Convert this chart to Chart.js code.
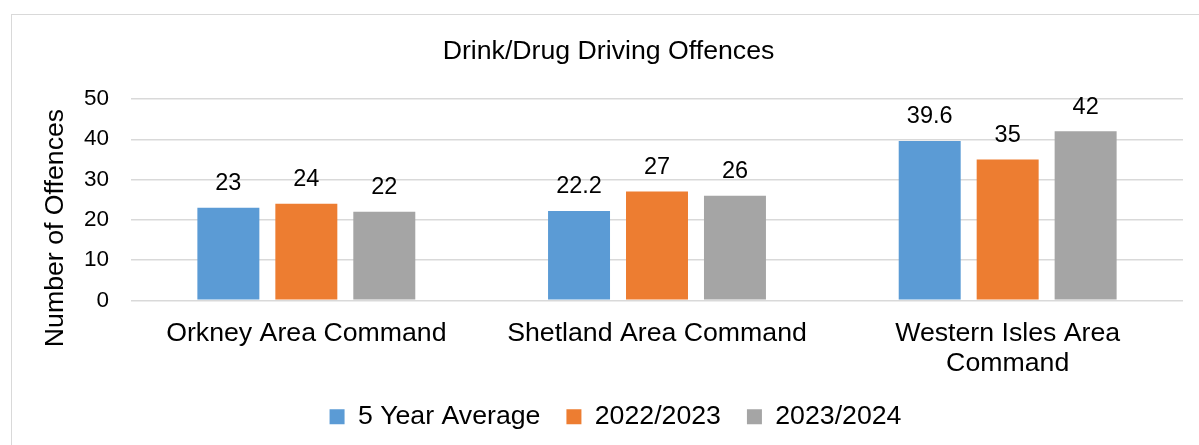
<!DOCTYPE html>
<html>
<head>
<meta charset="utf-8">
<script src="https://cdn.jsdelivr.net/npm/chart.js@4/dist/chart.umd.min.js"></script>
<style>
  html, body { margin: 0; padding: 0; background: #fff; }
  #wrap { position: absolute; left: 0; top: 0; width: 1199px; height: 445px; }
  #frame { position: absolute; left: 11px; top: 14px; width: 1300px; height: 500px; border: 1.5px solid #d9d9d9; }
</style>
</head>
<body>
<div id="frame"></div>
<div id="wrap"><canvas id="offencesChart"></canvas></div>
<script>
var categories = ['Orkney Area Command', 'Shetland Area Command', ['Western Isles Area', 'Command']];
var seriesNames = ['5 Year Average', '2022/2023', '2023/2024'];
var fiveYearAverage = [23, 22.2, 39.6];
var year2022 = [24, 27, 35];
var year2023 = [22, 26, 42];
var yTicks = [0, 10, 20, 30, 40, 50];
var yTitle = 'Number of Offences';

var FONT = "'Liberation Sans', Arial, sans-serif";

// value labels above each bar + y axis title (excel puts it a bit lower than centre)
var extras = {
    id: 'extras',
    afterLayout: function(chart) {
        // title and legend sit a little right of centre in the original
        chart.titleBlock.left += 17;
        chart.titleBlock.right += 17;
        chart.legend.left += 24;
        chart.legend.right += 24;
    },
    afterDatasetsDraw: function(chart) {
        var ctx = chart.ctx;
        ctx.save();
        ctx.font = '23.5px ' + FONT;
        ctx.fillStyle = '#000';
        ctx.textAlign = 'center';
        ctx.textBaseline = 'middle';
        chart.data.datasets.forEach(function(ds, i) {
            chart.getDatasetMeta(i).data.forEach(function(bar, j) {
                ctx.fillText(String(ds.data[j]), bar.x, bar.y - 24);
            });
        });
        ctx.translate(56, 228);
        ctx.rotate(-Math.PI / 2);
        ctx.font = '26.7px ' + FONT;
        ctx.fillText(yTitle, 0, 0);
        ctx.restore();
    }
};

var ctx = document.getElementById('offencesChart').getContext('2d');
var offencesChart = new Chart(ctx, {
    type: 'bar',
    data: {
        labels: categories,
        datasets: [
            { label: seriesNames[0], data: fiveYearAverage, backgroundColor: '#5b9bd5' },
            { label: seriesNames[1], data: year2022, backgroundColor: '#ed7d31' },
            { label: seriesNames[2], data: year2023, backgroundColor: '#a5a5a5' }
        ]
    },
    options: {
        responsive: true,
        maintainAspectRatio: false,
        animation: false,
        devicePixelRatio: 1,
        layout: { padding: { left: 0, right: 16, top: 0, bottom: 5 } },
        datasets: { bar: { barPercentage: 0.795, categoryPercentage: 0.667 } },
        plugins: {
            title: {
                display: true,
                text: 'Drink/Drug Driving Offences',
                color: '#000',
                font: { family: FONT, size: 26.7, weight: 'normal', lineHeight: 1.2 },
                padding: { top: 36, bottom: 31 }
            },
            legend: {
                position: 'bottom',
                labels: {
                    color: '#000',
                    font: { family: FONT, size: 26.7 },
                    boxWidth: 15,
                    boxHeight: 15,
                    padding: 26
                }
            },
            tooltip: { enabled: false }
        },
        scales: {
            x: {
                grid: { display: false },
                border: { display: false },
                ticks: {
                    color: '#000',
                    font: { family: FONT, size: 26.7, lineHeight: 1.12 },
                    maxRotation: 0,
                    autoSkip: false,
                    padding: 10
                },
                afterFit: function(scale) { scale.height = 77; }
            },
            y: {
                min: 0,
                max: 50,
                afterBuildTicks: function(scale) {
                    scale.ticks = yTicks.map(function(v) { return { value: v }; });
                },
                grid: { color: '#d9d9d9', lineWidth: 1.5, drawTicks: false },
                border: { display: false },
                ticks: {
                    color: '#000',
                    font: { family: FONT, size: 22.5 },
                    padding: 22
                },
                afterFit: function(scale) { scale.width = 131; }
            }
        }
    },
    plugins: [extras]
});
</script>
</body>
</html>
